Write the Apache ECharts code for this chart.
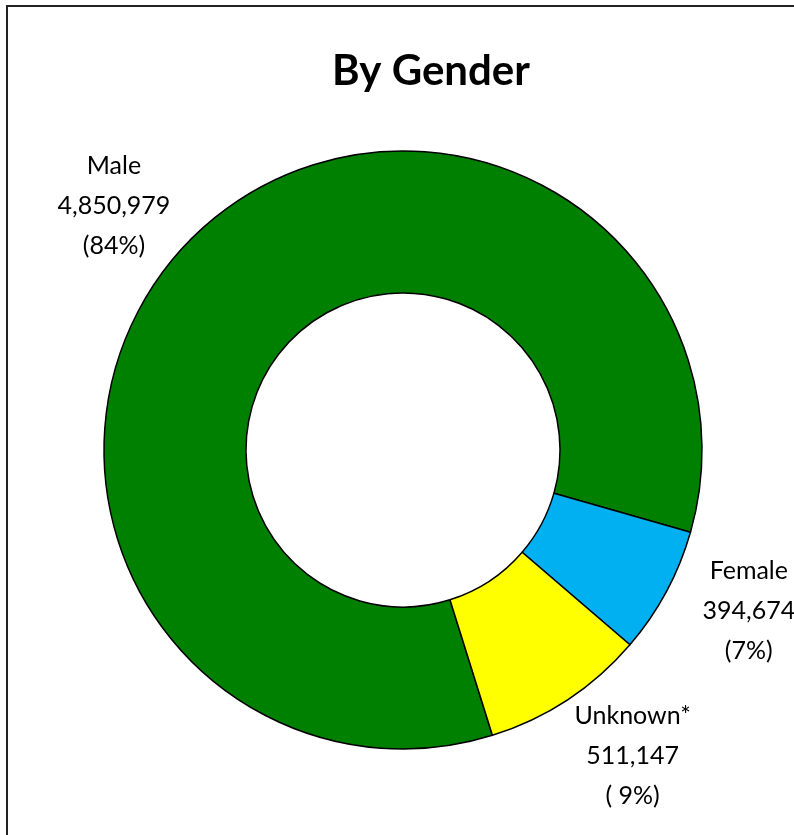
<!DOCTYPE html>
<html>
<head>
<meta charset="utf-8">
<script src="https://cdn.jsdelivr.net/npm/echarts@6/dist/echarts.min.js"></script>
<style>
  html, body { margin: 0; padding: 0; background: #fff; }
  #main { width: 794px; height: 835px; }
</style>
</head>
<body>
<div id="main"></div>
<script>
// data
const genders  = ["Male", "Female", "Unknown*"];
const counts   = [4850979, 394674, 511147];
const pctText  = ["(84%)", "(7%)", "( 9%)"];
const colors   = ["#008000", "#00B0F0", "#FFFF00"];

const startAngle = -72.6;   // Excel first slice angle, converted
const center = [403, 450];
const labelRadius = 380;
const labelShift = 3.8;      // degrees, counter clockwise

// mid angle of every slice, in degrees (ECharts convention, clockwise slices)
const total = counts.reduce((a, b) => a + b, 0);
const midAngles = (function(){
    let acc = startAngle;
    let out = [];
    counts.forEach(v => {
        let span = v / total * 360;
        out.push(acc - span / 2);
        acc -= span;
    });
    return out;
})();

var myChart = echarts.init(document.getElementById('main'));
myChart.setOption({
    animation: false,
    title: {
        text: "By Gender",
        left: 426,
        top: 45,
        textAlign: "center",
        textStyle: {
            fontFamily: "Lato",
            fontWeight: "bold",
            fontSize: 42,
            color: "#000"
        }
    },
    // chart frame
    graphic: [{
        type: "rect",
        shape: { x: 7, y: 6, width: 900, height: 900 },
        style: { fill: "none", stroke: "#222", lineWidth: 2 },
        silent: true
    }],
    series: [{
        type: "pie",
        center: center,
        radius: [157, 299],
        startAngle: startAngle,
        clockwise: true,
        avoidLabelOverlap: false,
        silent: true,
        itemStyle: {
            borderColor: "#000",
            borderWidth: 1.5
        },
        label: {
            show: true,
            position: "outside",
            fontFamily: "Lato",
            fontSize: 25,
            lineHeight: 40,
            color: "#000",
            formatter: function(p){
                return p.name + "\n" + p.value.toLocaleString("en-US") + "\n" + pctText[p.dataIndex];
            }
        },
        labelLine: { show: false },
        labelLayout: function(p){
            let a = (midAngles[p.dataIndex] + labelShift) * Math.PI / 180;
            return {
                x: center[0] + labelRadius * Math.cos(a),
                y: center[1] - labelRadius * Math.sin(a) + 3,
                align: "center",
                verticalAlign: "middle"
            };
        },
        data: genders.map((g, i) => ({
            name: g,
            value: counts[i],
            itemStyle: { color: colors[i] }
        }))
    }]
});
</script>
</body>
</html>
